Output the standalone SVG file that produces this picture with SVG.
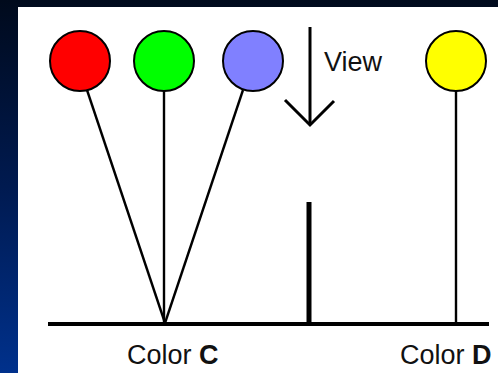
<svg xmlns="http://www.w3.org/2000/svg" width="498" height="373" viewBox="0 0 498 373">
  <defs>
    <linearGradient id="bg" x1="0" y1="0" x2="0" y2="1">
      <stop offset="0" stop-color="#000a1c"/>
      <stop offset="0.5" stop-color="#001a50"/>
      <stop offset="1" stop-color="#00318c"/>
    </linearGradient>
    <style>
      .ball { stroke: #000; stroke-width: 2; }
      .rod { stroke: #000; stroke-width: 2.4; fill: none; }
      .label { font-family: "Liberation Sans", Arial, sans-serif; font-size: 27px; fill: #111; }
    </style>
  </defs>

  <!-- slide background and white panel -->
  <rect x="0" y="0" width="498" height="373" fill="url(#bg)"/>
  <rect x="18" y="7" width="480" height="366" fill="#fff"/>

  <!-- connectors: rods from the balls to the ground line -->
  <g id="connectors">
    <line class="rod" x1="87" y1="90" x2="165" y2="323"/>
    <line class="rod" x1="164" y1="90" x2="164" y2="323"/>
    <line class="rod" x1="243" y1="90" x2="165" y2="323"/>
    <line class="rod" x1="456" y1="90" x2="456" y2="323"/>
  </g>

  <!-- ground line and post -->
  <g id="ground">
    <line x1="48" y1="324" x2="489" y2="324" stroke="#000" stroke-width="4"/>
    <line x1="309" y1="202" x2="309" y2="324" stroke="#000" stroke-width="5"/>
  </g>

  <!-- view arrow -->
  <g id="view">
    <line x1="310" y1="27" x2="310" y2="124" stroke="#000" stroke-width="3"/>
    <polyline points="285,100 310,125 334,101" fill="none" stroke="#000" stroke-width="3"/>
    <text class="label" x="324" y="71">View</text>
  </g>

  <g id="ball-red"><circle class="ball" cx="80" cy="61" r="30" fill="#ff0000"/></g>
  <g id="ball-green"><circle class="ball" cx="164" cy="61" r="30" fill="#00ff00"/></g>
  <g id="ball-blue"><circle class="ball" cx="253" cy="61" r="30" fill="#8080ff"/></g>
  <g id="ball-yellow"><circle class="ball" cx="456" cy="61" r="30" fill="#ffff00"/></g>

  <g id="label-c"><text class="label" x="127" y="364">Color <tspan font-weight="bold">C</tspan></text></g>
  <g id="label-d"><text class="label" x="400" y="364">Color <tspan font-weight="bold">D</tspan></text></g>
</svg>
